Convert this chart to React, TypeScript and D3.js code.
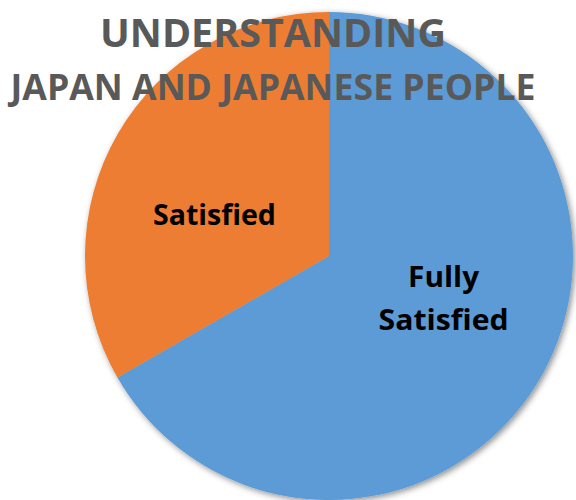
import React, { useEffect, useRef } from "react";
import * as d3 from "d3";

const categories = ["Fully Satisfied", "Satisfied"];
const values = [66.7, 33.3];
const labelLines = [["Fully", "Satisfied"], ["Satisfied"]];
const colors = ["#5B9BD5", "#ED7D31"];
const titleLines = ["UNDERSTANDING", "JAPAN AND JAPANESE PEOPLE"];

const W = 576;
const H = 500;

const App = () => {
    const svgRef = useRef(null);

    useEffect(() => {
        const svg = d3.select(svgRef.current);
        svg.selectAll("*").remove();

        const cx = 329;
        const cy = 256;
        const radius = 244;

        const defs = svg.append("defs");
        const filter = defs
            .append("filter")
            .attr("id", "pieShadow")
            .attr("x", "-10%")
            .attr("y", "-10%")
            .attr("width", "120%")
            .attr("height", "120%");
        filter
            .append("feDropShadow")
            .attr("dx", 2)
            .attr("dy", 2)
            .attr("stdDeviation", 3)
            .attr("flood-color", "#000")
            .attr("flood-opacity", 0.45);

        const pie = d3
            .pie<number>()
            .value((d) => d)
            .sort(null);

        const arcs = pie(values);

        const arc = d3.arc().innerRadius(0).outerRadius(radius);

        const g = svg.append("g").attr("transform", `translate(${cx}, ${cy})`);

        g.append("g")
            .attr("filter", "url(#pieShadow)")
            .selectAll("path")
            .data(arcs)
            .enter()
            .append("path")
            .attr("d", arc as any)
            .attr("fill", (_d, i) => colors[i]);

        // labels sit a little counter-clockwise of the slice middle
        const shift = (-10 * Math.PI) / 180;
        const labelArc = d3
            .arc()
            .innerRadius(radius * 0.5)
            .outerRadius(radius * 0.5);

        const lineGap = 43;
        const labelWidths = [[71, 130], [123]];

        arcs.forEach((d, i) => {
            const [lx, ly] = labelArc.centroid({
                startAngle: d.startAngle + shift,
                endAngle: d.endAngle + shift,
            } as any);
            const lines = labelLines[i];
            const first = ly - ((lines.length - 1) * lineGap) / 2 + 11;
            lines.forEach((t, j) => {
                g.append("text")
                    .attr("x", lx)
                    .attr("y", first + j * lineGap)
                    .attr("text-anchor", "middle")
                    .attr("font-family", "'Open Sans', sans-serif")
                    .attr("font-weight", "bold")
                    .attr("font-size", 29)
                    .attr("fill", "#000")
                    .attr("textLength", labelWidths[i][j])
                    .attr("lengthAdjust", "spacingAndGlyphs")
                    .text(t);
            });
        });

        const titleY = [47, 100];
        const titleSize = [39, 35];
        const titleWidth = [346, 525];
        titleLines.forEach((t, i) => {
            svg.append("text")
                .attr("x", 273)
                .attr("y", titleY[i])
                .attr("text-anchor", "middle")
                .attr("font-family", "'Open Sans', sans-serif")
                .attr("font-weight", "bold")
                .attr("font-size", titleSize[i])
                .attr("fill", "#595959")
                .attr("textLength", titleWidth[i])
                .attr("lengthAdjust", "spacingAndGlyphs")
                .text(t);
        });

        svg.attr("aria-label", categories.join(", "));
    }, []);

    return (
        <div style={{ position: "fixed", left: 0, top: 0, width: W, height: H, background: "#fff" }}>
            <svg ref={svgRef} width={W} height={H} style={{ display: "block" }}></svg>
        </div>
    );
};

export default App;
